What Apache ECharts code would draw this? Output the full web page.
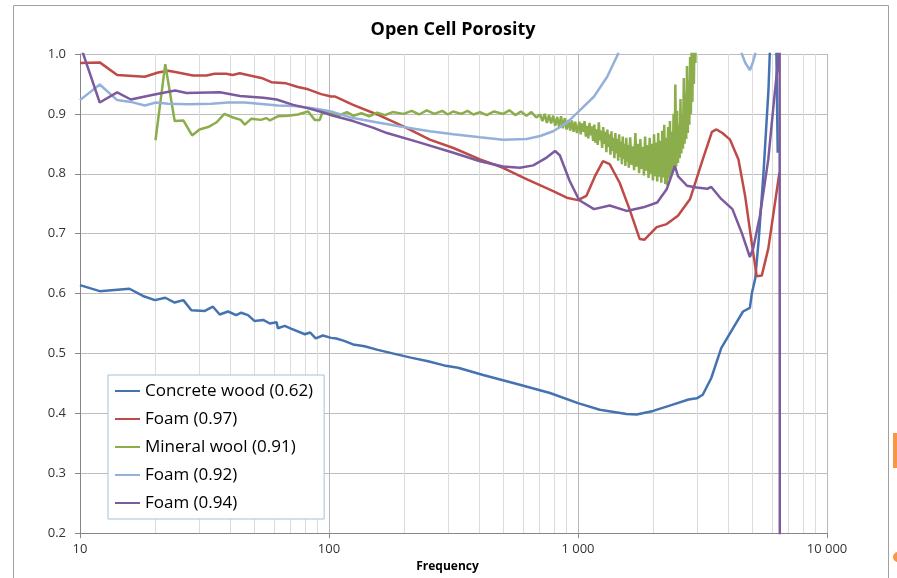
<!DOCTYPE html>
<html>
<head>
<meta charset="utf-8">
<title>Open Cell Porosity</title>
<script src="https://cdn.jsdelivr.net/npm/echarts@6/dist/echarts.min.js"></script>
<style>
  html, body { margin: 0; padding: 0; background: #fff; }
  #chart { width: 897px; height: 578px; }
</style>
</head>
<body>
<div id="chart"></div>
<script>
// values: [frequency (Hz), porosity]
const concreteWood = [
  [10, 0.614], [12, 0.604], [15.8, 0.608], [17.9, 0.596], [20, 0.589], [22, 0.593], [24, 0.585],
  [26, 0.589], [28, 0.572], [31.7, 0.571], [34.2, 0.578], [36.4, 0.565], [39.3, 0.570], [42.4, 0.564],
  [44.4, 0.568], [47.3, 0.564], [50.3, 0.554], [54.4, 0.556], [57.9, 0.550], [61.6, 0.552], [62.3, 0.542],
  [66.4, 0.546], [70.7, 0.541], [80, 0.532], [84, 0.535], [88.4, 0.525], [94.5, 0.530], [102, 0.526],
  [107, 0.525], [115, 0.521], [125, 0.515], [139, 0.512], [157, 0.506], [189, 0.498], [213, 0.493],
  [250, 0.487], [290, 0.480], [330, 0.476], [416, 0.464], [569, 0.449], [772, 0.434], [1000, 0.417],
  [1223, 0.406], [1567, 0.399], [1720, 0.398], [2003, 0.404], [2420, 0.415], [2780, 0.423], [3000, 0.425],
  [3170, 0.431], [3430, 0.459], [3760, 0.509], [4190, 0.542], [4600, 0.570], [4900, 0.576], [4990, 0.600],
  [5150, 0.625], [5320, 0.691], [5560, 0.802], [5820, 0.940], [5950, 1.05], [6150, 1.25], [6340, 0.835]
]

const foam097 = [
  [10, 0.985], [12, 0.986], [14.1, 0.965], [18.2, 0.962], [20.6, 0.969], [22.6, 0.972], [24.7, 0.969],
  [28.4, 0.964], [32.2, 0.964], [34.7, 0.967], [38.7, 0.967], [41, 0.965], [43.8, 0.968], [48.1, 0.964],
  [53.5, 0.960], [58.7, 0.953], [67.3, 0.951], [75, 0.945], [82.5, 0.941], [93, 0.933], [102, 0.929],
  [106, 0.929], [125, 0.915], [156, 0.899], [199, 0.879], [254, 0.857], [316, 0.843], [404, 0.824],
  [500, 0.810], [621, 0.791], [795, 0.771], [901, 0.760], [1000, 0.756], [1080, 0.763], [1170, 0.796],
  [1260, 0.821], [1340, 0.816], [1470, 0.785], [1610, 0.741], [1770, 0.691], [1850, 0.690], [2070, 0.711],
  [2270, 0.716], [2520, 0.730], [2820, 0.758], [3170, 0.824], [3450, 0.870], [3600, 0.874], [3800, 0.868],
  [4080, 0.857], [4410, 0.824], [4690, 0.763], [4980, 0.686], [5220, 0.629], [5470, 0.630], [5810, 0.675],
  [6130, 0.741], [6440, 0.802]
]

const mineralWool = [
  [20.1, 0.856], [22, 0.983], [24, 0.888], [26, 0.889], [28.2, 0.864], [30.2, 0.874], [32.7, 0.878],
  [35.4, 0.886], [38, 0.900], [41.2, 0.894], [44.2, 0.890], [45.9, 0.882], [48.8, 0.892], [53.2, 0.890],
  [56, 0.893], [57.9, 0.889], [62.3, 0.896], [68.4, 0.897], [75, 0.899], [82.5, 0.904], [87.6, 0.890],
  [91.8, 0.890], [94.5, 0.905], [102, 0.902], [110, 0.898], [118, 0.903], [125, 0.897], [135, 0.901],
  [145, 0.896], [156, 0.902], [168, 0.898], [180, 0.903], [199, 0.900], [215, 0.905], [230, 0.899],
  [247, 0.906], [265, 0.900], [285, 0.905], [300, 0.899], [315, 0.904], [340, 0.900], [360, 0.905],
  [380, 0.899], [404, 0.903], [430, 0.898], [460, 0.904], [500, 0.900], [530, 0.906], [560, 0.898],
  [590, 0.904], [621, 0.897], [650, 0.903], [680, 0.894], [705, 0.899],
  [720, 0.888], [735, 0.900], [750, 0.885], [765, 0.898], [780, 0.884], [795, 0.897], [810, 0.880],
  [825, 0.895], [840, 0.878], [855, 0.896], [870, 0.876], [885, 0.893], [900, 0.874], [915, 0.890],
  [930, 0.872], [945, 0.889], [960, 0.870], [975, 0.887], [990, 0.868],
  [1000, 0.868], [1012.5, 0.887], [1025, 0.866], [1037.5, 0.884], [1050, 0.870], [1062.5, 0.888],
  [1075, 0.862], [1087.5, 0.880], [1100, 0.859], [1112.5, 0.885], [1125, 0.864], [1137.5, 0.879],
  [1150, 0.855], [1162.5, 0.882], [1175, 0.852], [1187.5, 0.874], [1200, 0.848], [1212.5, 0.886],
  [1225, 0.856], [1237.5, 0.872], [1250, 0.843], [1262.5, 0.878], [1275, 0.850], [1287.5, 0.870],
  [1300, 0.836], [1312.5, 0.874], [1325, 0.845], [1337.5, 0.866], [1350, 0.832], [1362.5, 0.871],
  [1375, 0.838], [1387.5, 0.860], [1400, 0.826], [1412.5, 0.868], [1425, 0.834], [1437.5, 0.858],
  [1450, 0.822], [1462.5, 0.866], [1475, 0.828], [1487.5, 0.854], [1500, 0.816], [1512.5, 0.862],
  [1525, 0.825], [1537.5, 0.850], [1550, 0.813], [1562.5, 0.860], [1575, 0.820], [1587.5, 0.848],
  [1600, 0.810], [1620, 0.861], [1640, 0.815], [1660, 0.846], [1680, 0.806], [1700, 0.868], [1720, 0.812],
  [1740, 0.850], [1760, 0.801], [1780, 0.858], [1800, 0.808], [1820, 0.845], [1840, 0.797], [1860, 0.862],
  [1880, 0.805], [1900, 0.848], [1920, 0.793], [1940, 0.860], [1960, 0.800], [1980, 0.850], [2000, 0.789],
  [2020, 0.866], [2040, 0.796], [2060, 0.852], [2080, 0.787], [2100, 0.868], [2120, 0.795], [2140, 0.855],
  [2160, 0.785], [2180, 0.872], [2200, 0.794], [2220, 0.882], [2240, 0.783], [2260, 0.860], [2280, 0.781],
  [2300, 0.878], [2320, 0.792], [2340, 0.888], [2360, 0.797], [2380, 0.870], [2400, 0.802], [2420, 0.900],
  [2440, 0.808], [2460, 0.949], [2480, 0.812], [2500, 0.905], [2520, 0.818], [2540, 0.882], [2560, 0.826],
  [2580, 0.925], [2600, 0.834], [2620, 0.900], [2640, 0.842], [2660, 0.960], [2680, 0.850], [2700, 0.935],
  [2720, 0.858], [2740, 0.980], [2760, 0.868], [2780, 0.955], [2800, 0.882], [2820, 0.995], [2840, 0.900],
  [2860, 1.01], [2880, 0.920], [2900, 1.03], [2920, 0.950], [2940, 1.05], [2960, 0.985], [2980, 1.06],
  [3000, 1.02], [3050, 1.1], [3200, 1.2]
]

const foam092 = [
  [10, 0.923], [12, 0.949], [14.1, 0.923], [16, 0.920], [18.2, 0.914], [20.2, 0.919], [22.6, 0.917],
  [27.2, 0.916], [33.7, 0.917], [39.3, 0.919], [45.9, 0.919], [55, 0.916], [62.3, 0.914], [72.6, 0.913],
  [84.6, 0.910], [96, 0.906], [104, 0.903], [125, 0.893], [155, 0.886], [199, 0.878], [254, 0.871],
  [316, 0.866], [404, 0.861], [500, 0.857], [621, 0.858], [705, 0.863], [795, 0.871], [901, 0.885],
  [1000, 0.903], [1160, 0.929], [1310, 0.962], [1440, 0.998], [1600, 1.05], [2500, 1.3], [4000, 1.2],
  [4550, 1.0], [4700, 0.985], [4900, 0.973], [5030, 0.985], [5150, 1.0], [5400, 1.1]
]

const foam094 = [
  [10, 1.016], [12, 0.919], [14.1, 0.936], [16, 0.924], [19.7, 0.932], [24.1, 0.939], [26.8, 0.935],
  [36.5, 0.936], [43.9, 0.930], [54.5, 0.927], [61.6, 0.924], [71.8, 0.915], [81.3, 0.910], [92, 0.904],
  [104, 0.897], [125, 0.888], [150, 0.877], [171, 0.868], [232, 0.852], [316, 0.835], [404, 0.821],
  [500, 0.812], [585, 0.810], [661, 0.814], [748, 0.827], [809, 0.838], [845, 0.831], [926, 0.788],
  [1000, 0.760], [1020, 0.755], [1160, 0.741], [1340, 0.747], [1567, 0.738], [1830, 0.744], [2080, 0.752],
  [2270, 0.774], [2450, 0.813], [2520, 0.796], [2740, 0.780], [3000, 0.777], [3310, 0.775], [3430, 0.778],
  [3760, 0.758], [4170, 0.741], [4540, 0.702], [4900, 0.661], [5050, 0.675], [5380, 0.730], [5810, 0.824],
  [6130, 0.924], [6370, 0.990], [6420, 1.1], [6450, 1.3], [6465, 0], [6470, -0.5]
]

const seriesNames = ['Concrete wood (0.62)', 'Foam (0.97)', 'Mineral wool (0.91)', 'Foam (0.92)', 'Foam (0.94)']
const seriesColors = ['#4573b1', '#be4b48', '#8cad4b', '#94b1d9', '#7b5b9e']
const seriesData = [concreteWood, foam097, mineralWool, foam092, foam094]

// log-axis minor gridlines (2..9 in every decade)
const minorTicks = [20, 30, 40, 50, 60, 70, 80, 90, 200, 300, 400, 500, 600, 700, 800, 900,
  2000, 3000, 4000, 5000, 6000, 7000, 8000, 9000]

const chart = echarts.init(document.getElementById('chart'), null, { renderer: 'canvas' })

const fmtFreq = (v) => String(Math.round(v)).replace(/\B(?=(\d{3})+(?!\d))/g, ' ')

const option = {
  animation: false,
  backgroundColor: '#fff',
  textStyle: { fontFamily: '"Open Sans", "Noto Sans", sans-serif' },
  title: {
    text: 'Open Cell Porosity',
    left: 448,
    textAlign: 'center',
    top: 16,
    textStyle: { fontSize: 18, fontWeight: 'bold', color: '#000', fontFamily: '"Open Sans", sans-serif' },
  },
  graphic: [
    {
      type: 'rect',
      shape: { x: 13.5, y: 5.5, width: 875, height: 600 },
      style: { fill: 'none', stroke: '#a0a0a0', lineWidth: 1 },
      silent: true,
    },
    {
      type: 'rect',
      shape: { x: 893, y: 433, width: 6, height: 35 },
      style: { fill: '#f79646' },
      silent: true,
    },
    {
      type: 'circle',
      shape: { cx: 898, cy: 557, r: 5 },
      style: { fill: '#f79646' },
      silent: true,
    },
  ],
  legend: {
    data: seriesNames,
    orient: 'vertical',
    left: 108,
    top: 375,
    padding: [6, 11, 6, 7],
    itemGap: 8,
    itemWidth: 25,
    itemHeight: 2,
    icon: 'rect',
    backgroundColor: '#fff',
    borderColor: '#a9bed9',
    borderWidth: 1,
    borderRadius: 0,
    textStyle: { fontSize: 17, color: '#000', lineHeight: 20, fontFamily: '"Open Sans", sans-serif' },
  },
  grid: {
    left: 80,
    right: 70,
    top: 54,
    bottom: 42,
    containLabel: false,
  },
  xAxis: {
    type: 'log',
    logBase: 10,
    min: 10,
    max: 10000,
    name: 'Frequency',
    nameLocation: 'middle',
    nameGap: 21,
    nameTextStyle: { fontSize: 12, fontWeight: 'bold', color: '#000', padding: [0, 12, 0, 0] },
    axisLine: { show: true, lineStyle: { color: '#868686', width: 1 } },
    axisTick: { show: true, length: 5, lineStyle: { color: '#868686' } },
    axisLabel: { fontSize: 13, color: '#333', margin: 10, formatter: fmtFreq },
    splitLine: { show: true, lineStyle: { color: '#b8b8b8', width: 1 } },
  },
  yAxis: {
    type: 'value',
    min: 0.2,
    max: 1.0,
    interval: 0.1,
    axisLine: { show: true, lineStyle: { color: '#868686', width: 1 } },
    axisTick: { show: true, length: 5, lineStyle: { color: '#868686' } },
    axisLabel: { fontSize: 13, color: '#333', margin: 14, formatter: (v) => v.toFixed(1) },
    splitLine: { show: true, lineStyle: { color: '#bdbdbd', width: 1 } },
  },
  series: [
    {
      name: 'minor-grid',
      type: 'line',
      data: [],
      silent: true,
      markLine: {
        silent: true,
        symbol: 'none',
        z: 1,
        animation: false,
        label: { show: false },
        lineStyle: { color: '#dcdcdc', width: 1, type: 'solid' },
        data: minorTicks.map((t) => ({ xAxis: t })),
      },
    },
    ...seriesNames.map((name, i) => ({
      name,
      type: 'line',
      data: seriesData[i],
      showSymbol: false,
      symbol: 'none',
      z: 3 + i,
      lineStyle: { color: seriesColors[i], width: 2.5 },
      itemStyle: { color: seriesColors[i] },
    })),
  ],
}

chart.setOption(option)
</script>
</body>
</html>
